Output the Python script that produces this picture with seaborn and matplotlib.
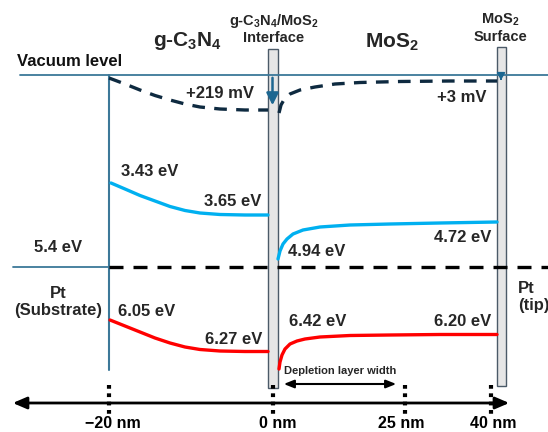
import numpy as np
import pandas as pd
import matplotlib
matplotlib.use("Agg")
import matplotlib.pyplot as plt
import seaborn as sns
from matplotlib.patches import Rectangle

# ---------------- data (schematic coordinates) ----------------
axis_ticks_nm = ["\u221220 nm", "0 nm", "25 nm", "40 nm"]
axis_tick_pos = [109, 273, 405, 491]
axis_label_pos = [113, 278, 401, 493]

cb_gcn_x = [111, 125, 140, 155, 170, 185, 200, 220, 245, 268]
cb_gcn_y = [183, 189, 195.5, 201, 206.5, 210.5, 213, 214.5, 215, 215]
cb_mos2_x = [278, 280, 283, 287, 293, 303, 320, 350, 390, 440, 497]
cb_mos2_y = [259, 251, 244, 239, 234, 230, 227, 225, 224, 223, 222]

vb_gcn_x = [110, 125, 140, 155, 170, 185, 200, 220, 245, 268]
vb_gcn_y = [320, 326, 332, 338, 343, 347, 349.5, 351, 351.5, 351.5]
vb_mos2_x = [279, 280, 282, 285, 290, 297, 305, 320, 350, 390, 440, 497]
vb_mos2_y = [369, 362, 355, 349, 344, 341, 339, 337, 335.5, 335, 334.5, 334.5]

vac_gcn_x = [109, 125, 140, 155, 170, 185, 200, 220, 245, 268]
vac_gcn_y = [78, 84, 90, 95.5, 100, 104, 107, 109, 110, 110]
vac_mos2_x = [279, 281, 285, 290, 300, 315, 335, 360, 400, 450, 497]
vac_mos2_y = [113, 105, 98, 94, 90, 87, 84, 82.5, 81.5, 81, 81]

band_labels = ["3.43 eV", "3.65 eV", "4.94 eV", "4.72 eV",
               "6.05 eV", "6.27 eV", "6.42 eV", "6.20 eV", "5.4 eV"]
band_label_x = [150, 233, 317, 463, 147, 234, 318, 463, 58]
band_label_y = [172, 202, 251, 238, 312, 339, 322, 321, 248]

potential_labels = ["+219 mV", "+3 mV"]
potential_x = [220, 462]
potential_y = [93, 98]

vacuum_y = 75
fermi_y = 267

# ---------------- styling ----------------
sns.set_theme(style="white")
plt.rcParams["font.family"] = ["Liberation Sans", "DejaVu Sans"]
plt.rcParams["mathtext.fontset"] = "custom"
plt.rcParams["mathtext.rm"] = "Liberation Sans:bold"
plt.rcParams["mathtext.it"] = "Liberation Sans:bold"
plt.rcParams["mathtext.bf"] = "Liberation Sans:bold"
plt.rcParams["mathtext.default"] = "bf"

BLUE_LINE = "#3c7899"
NAVY = "#0e2a40"
CYAN = "#00b0f0"
RED = "#ff0000"
ARROW_BLUE = "#1d6791"

fig = plt.figure(figsize=(5.48, 4.32), dpi=100)
ax = fig.add_axes([0, 0, 1, 1])

# gray bars (interface and surface)
ax.add_patch(Rectangle((268, 49), 9.5, 339, facecolor="#e6e6e6",
                       edgecolor="#4b5a68", lw=1, zorder=1))
ax.add_patch(Rectangle((497, 47), 8.5, 339, facecolor="#e6e6e6",
                       edgecolor="#4b5a68", lw=1, zorder=1))

# vacuum level & left boundary
ax.plot([20, 548], [vacuum_y, vacuum_y], color=BLUE_LINE, lw=1.3, zorder=3)
ax.plot([109, 109], [vacuum_y, 370], color=BLUE_LINE, lw=1.5, zorder=3)
ax.plot([13, 109], [fermi_y, fermi_y], color=BLUE_LINE, lw=1.3, zorder=3)
ax.plot([109, 548], [fermi_y, fermi_y], color="black", lw=2.4,
        linestyle=(0, (4.2, 3.0)), zorder=4)

# curves
curves = [
    (cb_gcn_x, cb_gcn_y, CYAN),
    (cb_mos2_x, cb_mos2_y, CYAN),
    (vb_gcn_x, vb_gcn_y, RED),
    (vb_mos2_x, vb_mos2_y, RED),
]
for xs, ys, c in curves:
    df = pd.DataFrame({"x": xs, "y": ys})
    sns.lineplot(data=df, x="x", y="y", ax=ax, color=c, lw=2.4,
                 sort=False, estimator=None, zorder=5)

for xs, ys in [(vac_gcn_x, vac_gcn_y), (vac_mos2_x, vac_mos2_y)]:
    df = pd.DataFrame({"x": xs, "y": ys})
    sns.lineplot(data=df, x="x", y="y", ax=ax, color=NAVY, lw=2.4,
                 sort=False, estimator=None, zorder=5,
                 linestyle=(0, (3.8, 2.8)))
ax.set_xlabel("")
ax.set_ylabel("")
ax.set_xlim(0, 548)
ax.set_ylim(432, 0)
ax.axis("off")

# potential arrows
ax.annotate("", xy=(272.5, 108), xytext=(272.5, vacuum_y),
            arrowprops=dict(arrowstyle="-|>,head_width=0.3,head_length=0.6",
                            color=ARROW_BLUE, lw=1.8), zorder=6)
ax.annotate("", xy=(501, 83), xytext=(501, vacuum_y),
            arrowprops=dict(arrowstyle="-|>,head_width=0.2,head_length=0.35",
                            color=ARROW_BLUE, lw=1.2), zorder=6)

# axis
ax.annotate("", xy=(10, 403), xytext=(512, 403),
            arrowprops=dict(arrowstyle="<|-|>,head_width=0.3,head_length=0.7",
                            color="black", lw=2.0), zorder=6)
for xp, xl, lab in zip(axis_tick_pos, axis_label_pos, axis_ticks_nm):
    ax.plot([xp, xp], [385, 414], color="black", lw=3.0,
            linestyle=(0, (0.9, 1.1)), solid_capstyle="butt", zorder=7)
    ax.text(xl, 428.3, lab, ha="center", va="baseline", fontsize=11.5,
            fontweight="bold", color="black")

# depletion arrow
ax.annotate("", xy=(281, 384), xytext=(399, 384),
            arrowprops=dict(arrowstyle="<|-|>,head_width=0.2,head_length=0.5",
                            color="black", lw=1.5), zorder=6)
ax.text(340, 371, "Depletion layer width", ha="center", va="center",
        fontsize=8, fontweight="bold")

# band labels
for t, x, y in zip(band_labels, band_label_x, band_label_y):
    ax.text(x, y, t, ha="center", va="center", fontsize=12, fontweight="bold")
for t, x, y in zip(potential_labels, potential_x, potential_y):
    ax.text(x, y, t, ha="center", va="center", fontsize=12, fontweight="bold")

# titles
ax.text(17, 61, "Vacuum level", ha="left", va="center", fontsize=12,
        fontweight="bold", color="#111111")
ax.text(188, 41, r"g-C$_3$N$_4$", ha="center", va="center", fontsize=15,
        fontweight="bold")
ax.text(392, 42, r"MoS$_2$", ha="center", va="center", fontsize=15,
        fontweight="bold")
ax.text(274, 21, "g-C$_3$N$_4$/MoS$_2$", ha="center", va="center",
        fontsize=10.5, fontweight="bold")
ax.text(274, 38, "Interface", ha="center", va="center",
        fontsize=10.5, fontweight="bold")
ax.text(500, 20, "MoS$_2$", ha="center", va="center",
        fontsize=10.5, fontweight="bold")
ax.text(500, 37, "Surface", ha="center", va="center",
        fontsize=10.5, fontweight="bold")
ax.text(58, 302, "Pt\n(Substrate)", ha="center", va="center", fontsize=12,
        fontweight="bold", linespacing=1.1)
ax.text(518, 297, "Pt\n(tip)", ha="left", va="center", fontsize=12,
        fontweight="bold", linespacing=1.1)

fig.savefig("out.png", dpi=100)
